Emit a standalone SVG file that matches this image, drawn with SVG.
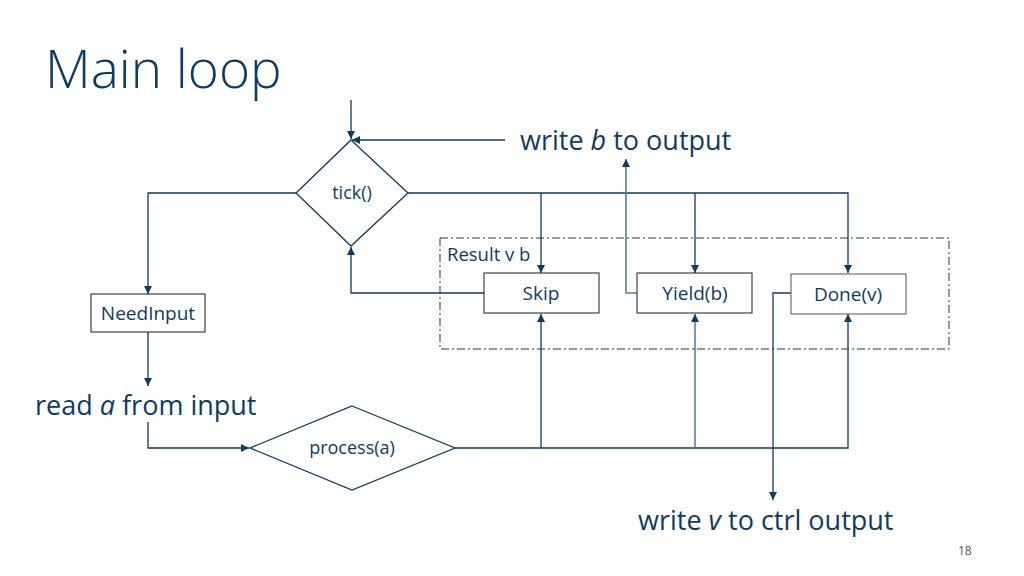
<svg xmlns="http://www.w3.org/2000/svg" width="1024" height="576" viewBox="0 0 1024 576">
<style>
text{font-family:"Open Sans","Noto Sans","Liberation Sans",sans-serif;fill:#0e3b63}
.box{fill:#fff;stroke:#1a1a1a;stroke-width:1}
.dia{fill:#fff;stroke:#0e3b63;stroke-width:1.3}
.ln{fill:none;stroke:#0e3b63;stroke-width:1.3}
.lt{fill:none;stroke:#5a7f9a;stroke-width:1.6}
.lbl{font-size:19px;text-anchor:middle}
.dl{font-size:18px;text-anchor:middle}
.big{font-size:27px}
</style>
<defs>
<marker id="ah" viewBox="0 0 10 10" refX="10" refY="5" markerWidth="8" markerHeight="8" markerUnits="userSpaceOnUse" orient="auto"><path d="M0,0L10,5L0,10z" fill="#0e3b63"/></marker>
</defs>
<rect width="1024" height="576" fill="#fff"/>
<text x="45" y="88" style="font-size:53px;font-weight:300">Main loop</text>
<g id="result-group">
<rect x="440" y="238" width="509" height="111" fill="none" stroke="#333" stroke-width="1" stroke-dasharray="8,3,2,3"/>
<text x="447" y="261" style="font-size:18.5px">Result v b</text>
</g>
<g id="connectors">
<path class="ln" d="M351,100V139" marker-end="url(#ah)"/>
<path class="ln" d="M505,140H352" marker-end="url(#ah)"/>
<path class="ln" d="M408,193H848V273" marker-end="url(#ah)"/>
<path class="ln" d="M541,193V273" marker-end="url(#ah)"/>
<path class="ln" d="M695,193V273" marker-end="url(#ah)"/>
<path class="ln" d="M296,193H148V294" marker-end="url(#ah)"/>
<path class="ln" d="M148,332V386" marker-end="url(#ah)"/>
<path class="ln" d="M148,422V448H249" marker-end="url(#ah)"/>
<path class="ln" d="M455,448H848V314" marker-end="url(#ah)"/>
<path class="ln" d="M541,448V314" marker-end="url(#ah)"/>
<path class="lt" d="M695,448V314" marker-end="url(#ah)"/>
<path class="ln" d="M484,293H351V247" marker-end="url(#ah)"/>
<path class="lt" d="M637,293H626V159" marker-end="url(#ah)"/>
<path class="ln" d="M791,293H773V500" marker-end="url(#ah)"/>
</g>
<g id="tick">
<polygon class="dia" points="351,140 408,193 351,246 296,193"/>
<text class="dl" x="352" y="199">tick()</text>
</g>
<g id="process">
<polygon class="dia" points="352,406 455,448 352,490 250,448"/>
<text class="dl" x="352" y="454">process(a)</text>
</g>
<g id="needinput">
<rect class="box" x="91" y="294" width="114" height="38"/>
<text class="lbl" x="148" y="320">NeedInput</text>
</g>
<g id="skip">
<rect class="box" x="484" y="273" width="115" height="40"/>
<text class="lbl" x="541" y="300">Skip</text>
</g>
<g id="yield">
<rect class="box" x="637" y="273" width="115" height="40"/>
<text class="lbl" x="695" y="300">Yield(b)</text>
</g>
<g id="done">
<rect class="box" x="791" y="274" width="115" height="40" style="stroke:#555"/>
<text class="lbl" x="848" y="301">Done(v)</text>
</g>
<g id="write-b">
<text class="big" x="520" y="150">write <tspan font-style="italic">b</tspan> to output</text>
</g>
<g id="read-a">
<text class="big" x="35" y="415">read <tspan font-style="italic">a</tspan> from input</text>
</g>
<g id="write-v">
<text class="big" x="638" y="530">write <tspan font-style="italic">v</tspan> to ctrl output</text>
</g>
<text x="958" y="555" style="font-size:12px;fill:#555">18</text>
</svg>
